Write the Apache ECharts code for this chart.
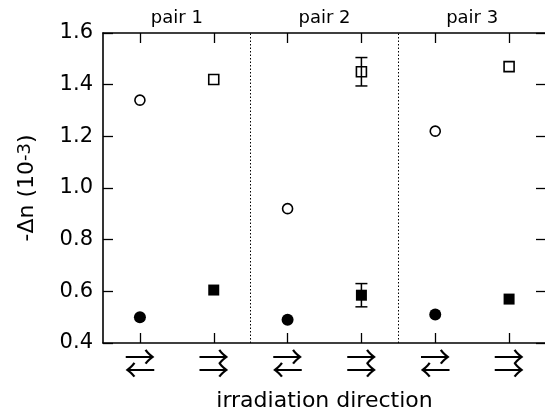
<!DOCTYPE html>
<html>
<head>
<meta charset="utf-8">
<script src="https://cdn.jsdelivr.net/npm/echarts@6/dist/echarts.min.js"></script>
<style>
  html, body { margin: 0; padding: 0; background: #fff; }
  #chart { width: 545px; height: 410px; }
</style>
</head>
<body>
<div id="chart"></div>
<script>
// Irradiation direction for the six positions (x = 1..6):
// 'opp' = counter-propagating beams, 'same' = co-propagating beams
const directions = ['opp', 'same', 'opp', 'same', 'opp', 'same'];
const pairLabels = ['pair 1', 'pair 2', 'pair 3'];
const yTicks = [0.4, 0.6, 0.8, 1.0, 1.2, 1.4, 1.6];

// Values per pair: circles sit at the first position of a pair, squares at the second
const openCircle   = [1.34, 0.92, 1.22];
const openSquare   = [1.42, 1.45, 1.47];
const filledCircle = [0.50, 0.49, 0.51];
const filledSquare = [0.605, 0.585, 0.57];
// Error half-widths (null where no bar is drawn)
const openSquareErr   = [null, 0.055, null];
const filledSquareErr = [null, 0.045, null];

// Pair separators
const pairBounds = [2.5, 4.5];

const FONT = 'DejaVu Sans';
const ARROW_FONT = 'Noto Sans CJK JP';
const circleX = i => 2 * i + 1;
const squareX = i => 2 * i + 2;

// Stacked arrow pair drawn as two lines of text
const arrowText = d => d === 'opp' ? '{a|\u2192}\n{a|\u2190}' : '{a|\u2192}\n{a|\u2192}';

const toPoints = (vals, xf) => vals.map((v, i) => [xf(i), v]);
const toErr = (vals, errs, xf) => vals
  .map((v, i) => errs[i] == null ? null : [xf(i), v - errs[i], v + errs[i]])
  .filter(d => d);

const errData = toErr(openSquare, openSquareErr, squareX)
  .concat(toErr(filledSquare, filledSquareErr, squareX));

const chart = echarts.init(document.getElementById('chart'), null, { renderer: 'canvas' });

const axisLine = { show: true, lineStyle: { color: '#000', width: 1.6 } };
const tickStyle = { color: '#000', width: 1.3 };

chart.setOption({
  animation: false,
  backgroundColor: '#fff',
  textStyle: { fontFamily: FONT, color: '#000' },
  grid: { left: 103, right: -1, top: 33, bottom: 67, containLabel: false, outerBoundsMode: 'none' },
  xAxis: [
    {
      type: 'value', position: 'bottom', min: 0.5, max: 6.5,
      axisLine: axisLine,
      axisTick: { show: true, inside: true, length: 10, lineStyle: tickStyle,
                  customValues: directions.map((d, i) => i + 1) },
      axisLabel: { show: true, margin: 7, color: '#000',
                   customValues: directions.map((d, i) => i + 1),
                   formatter: v => arrowText(directions[Math.round(v) - 1]),
                   rich: { a: { fontSize: 31, fontFamily: ARROW_FONT, color: '#000', lineHeight: 13 } } },
      splitLine: { show: false },
      name: 'irradiation direction', nameLocation: 'middle', nameGap: 34,
      nameTextStyle: { fontSize: 22, fontFamily: FONT, color: '#000' }
    },
    {
      type: 'value', position: 'top', min: 0.5, max: 6.5,
      axisLine: axisLine,
      axisTick: { show: true, inside: true, length: 10, lineStyle: tickStyle,
                  customValues: directions.map((d, i) => i + 1) },
      axisLabel: { show: true, margin: 6, fontSize: 18, fontFamily: FONT, color: '#000',
                   customValues: pairLabels.map((p, i) => 2 * i + 1.5),
                   formatter: v => pairLabels[Math.round((v - 1.5) / 2)] },
      splitLine: { show: false }
    }
  ],
  yAxis: [
    {
      type: 'value', position: 'left', min: 0.4, max: 1.6, interval: 0.2,
      axisLine: axisLine,
      axisTick: { show: true, inside: true, length: 10, lineStyle: tickStyle },
      axisLabel: { margin: 10, fontSize: 21, fontFamily: FONT, color: '#000',
                   customValues: yTicks,
                   formatter: v => v.toFixed(1) },
      splitLine: { show: false },
      name: '{t|-\u0394n (10}{s|-3}{t|)}', nameLocation: 'middle', nameGap: 64, nameRotate: 90,
      nameTextStyle: {
        rich: {
          t: { fontSize: 22, fontFamily: FONT, color: '#000' },
          s: { fontSize: 18, fontFamily: FONT, color: '#000', verticalAlign: 'top', padding: [0, 0, 5, 0] }
        }
      }
    },
    {
      type: 'value', position: 'right', min: 0.4, max: 1.6, interval: 0.2,
      axisLine: axisLine,
      axisTick: { show: true, inside: true, length: 10, lineStyle: tickStyle },
      axisLabel: { show: false },
      splitLine: { show: false }
    }
  ],
  series: [
    {
      name: 'open circle', type: 'scatter', xAxisIndex: 0, yAxisIndex: 0,
      symbol: 'circle', symbolSize: 10,
      itemStyle: { color: '#fff', borderColor: '#000', borderWidth: 1.6, opacity: 1 },
      data: toPoints(openCircle, circleX),
      markLine: {
        silent: true, symbol: ['none', 'none'], label: { show: false },
        lineStyle: { color: '#000', width: 1, type: [1.5, 2] },
        data: pairBounds.map(x => ({ xAxis: x }))
      },
      z: 3
    },
    {
      name: 'open square', type: 'scatter', xAxisIndex: 0, yAxisIndex: 0,
      symbol: 'rect', symbolSize: 10,
      itemStyle: { color: '#fff', borderColor: '#000', borderWidth: 1.6, opacity: 1 },
      data: toPoints(openSquare, squareX), z: 3
    },
    {
      name: 'filled circle', type: 'scatter', xAxisIndex: 0, yAxisIndex: 0,
      symbol: 'circle', symbolSize: 12,
      itemStyle: { color: '#000', opacity: 1 },
      data: toPoints(filledCircle, circleX), z: 3
    },
    {
      name: 'filled square', type: 'scatter', xAxisIndex: 0, yAxisIndex: 0,
      symbol: 'rect', symbolSize: 11,
      itemStyle: { color: '#000', opacity: 1 },
      data: toPoints(filledSquare, squareX), z: 3
    },
    {
      name: 'error bars', type: 'custom', xAxisIndex: 0, yAxisIndex: 0, z: 4,
      data: errData,
      renderItem: function (params, api) {
        const x = api.value(0);
        const lo = api.coord([x, api.value(1)]);
        const hi = api.coord([x, api.value(2)]);
        const half = 6;
        const style = { stroke: '#000', lineWidth: 1.5 };
        return {
          type: 'group',
          children: [
            { type: 'line', shape: { x1: lo[0], y1: lo[1], x2: hi[0], y2: hi[1] }, style: style },
            { type: 'line', shape: { x1: lo[0] - half, y1: lo[1], x2: lo[0] + half, y2: lo[1] }, style: style },
            { type: 'line', shape: { x1: hi[0] - half, y1: hi[1], x2: hi[0] + half, y2: hi[1] }, style: style }
          ]
        };
      }
    }
  ]
});
</script>
</body>
</html>
